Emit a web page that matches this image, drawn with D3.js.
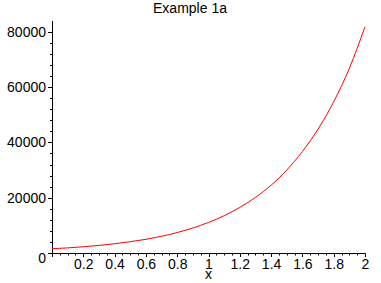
<!DOCTYPE html>
<html>
<head>
<meta charset="utf-8">
<script src="https://cdn.jsdelivr.net/npm/d3@7"></script>
<style>
  body { margin: 0; background: #fff; }
  text { font-family: "Liberation Sans Narrow", "Arial Narrow", "Liberation Sans", sans-serif; font-size: 14px; fill: #000; }
</style>
</head>
<body>
<script>
// values
var xs = [0, 0.1, 0.2, 0.3, 0.4, 0.5, 0.6, 0.7, 0.8, 0.9, 1.0,
          1.1, 1.2, 1.3, 1.4, 1.5, 1.6, 1.7, 1.8, 1.9, 2.0];
var ys = [1550, 1850, 2250, 2750, 3350, 4100, 4950, 6050, 7400, 9050, 11050,
          13500, 16500, 20100, 24500, 30000, 36700, 44800, 54700, 66800, 81800];
var xTicks = [0.2, 0.4, 0.6, 0.8, 1, 1.2, 1.4, 1.6, 1.8, 2];
var yTicks = [20000, 40000, 60000, 80000];
var title = "Example 1a";

var W = 381, H = 283;
var svg = d3.select("body").append("svg")
  .attr("width", W)
  .attr("height", H);

var x = d3.scaleLinear().domain([0, 2]).range([52, 365]);
var y = d3.scaleLinear().domain([0, 80000]).range([253, 31.8]);

// x axis
var xMinor = d3.range(0, 2.0001, 0.05);
svg.append("line")
  .attr("x1", x(0)).attr("x2", x(2) + 0.5)
  .attr("y1", y(0) + 0.5).attr("y2", y(0) + 0.5)
  .attr("stroke", "#000");
svg.selectAll(".xm").data(xMinor).join("line")
  .attr("x1", d => Math.round(x(d)) + 0.5).attr("x2", d => Math.round(x(d)) + 0.5)
  .attr("y1", y(0) + 0.5)
  .attr("y2", (d, i) => y(0) + (i % 4 == 0 ? 4 : 2.5))
  .attr("stroke", "#000");
svg.selectAll(".xl").data(xTicks).join("text")
  .attr("x", d => x(d) + 0.5)
  .attr("y", 269)
  .attr("text-anchor", "middle")
  .text(d => d);

// y axis
var yMinor = d3.range(0, 80001, 4000);
svg.append("line")
  .attr("x1", x(0) + 0.5).attr("x2", x(0) + 0.5)
  .attr("y1", y(0) + 0.5).attr("y2", 21)
  .attr("stroke", "#000");
svg.selectAll(".ym").data(yMinor).join("line")
  .attr("x1", (d, i) => x(0) - (i % 5 == 0 ? 4 : 2))
  .attr("x2", x(0) + 0.5)
  .attr("y1", d => Math.round(y(d)) + 0.5).attr("y2", d => Math.round(y(d)) + 0.5)
  .attr("stroke", "#000");
svg.selectAll(".yl").data(yTicks).join("text")
  .attr("x", 46)
  .attr("y", d => y(d) + 5)
  .attr("text-anchor", "end")
  .text(d => d);
svg.append("text")
  .attr("x", 46).attr("y", 263)
  .attr("text-anchor", "end")
  .text("0");

// axis label + title
svg.append("text")
  .attr("x", x(1)).attr("y", 279)
  .attr("text-anchor", "middle")
  .text("x");
svg.append("text")
  .attr("x", 190).attr("y", 12.5)
  .attr("text-anchor", "middle")
  .text(title);

// curve
var pts = xs.map((d, i) => [d, ys[i]]);
svg.append("path")
  .datum(pts)
  .attr("fill", "none")
  .attr("stroke", "#ff0000")
  .attr("stroke-width", 1)
  .attr("d", d3.line().x(d => x(d[0])).y(d => y(d[1])).curve(d3.curveMonotoneX));
</script>
</body>
</html>
